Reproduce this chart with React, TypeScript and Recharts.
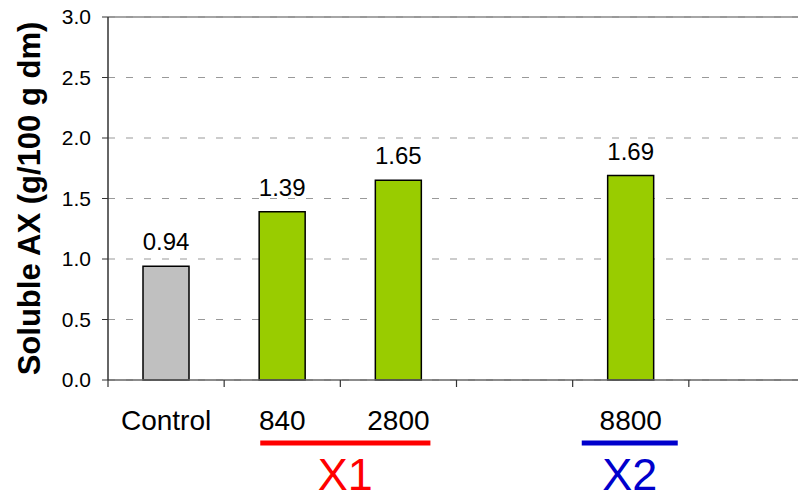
import { BarChart, Bar, XAxis, YAxis, CartesianGrid, ReferenceLine, LabelList, Cell } from "recharts";

const categories = ["Control", "840", "2800", "", "8800", ""];
const solubleAX = [0.94, 1.39, 1.65, null, 1.69, null];
const barColors = ["#C0C0C0", "#99CC00", "#99CC00", "#99CC00", "#99CC00", "#99CC00"];
const yTicks = [0, 0.5, 1, 1.5, 2, 2.5, 3];
const groupLabels = ["X1", "X2"];
const groupStart = ["840", "8800"];
const groupSize = [2, 1];
const groupColors = ["#FF0000", "#0000CC"];

const FONT = "'Liberation Sans', Arial, sans-serif";
const BAND = 697 / 6;
// line overhang past the bar centres of the first/last category in each group
const groupPad = [
  [22, 32],
  [49, 47],
];

const data = categories.map((c, i) => ({ name: c, value: solubleAX[i] }));

function CategoryTick(props: any) {
  const { x, y, payload, index } = props;
  const g = groupStart.indexOf(payload.value);
  let group = null;
  if (g >= 0) {
    const x1 = x - groupPad[g][0];
    const x2 = x + (groupSize[g] - 1) * BAND + groupPad[g][1];
    group = (
      <g>
        <line x1={x1} x2={x2} y1={y + 63} y2={y + 63} stroke={groupColors[g]} strokeWidth={5} />
        <text x={(x1 + x2) / 2} y={y + 110} textAnchor="middle" fontSize={45} fontFamily={FONT} fill={groupColors[g]}>
          {groupLabels[g]}
        </text>
      </g>
    );
  }
  // tick marks sit on the category boundaries, not the centres
  const left = x - BAND / 2;
  return (
    <g>
      <line x1={left} x2={left} y1={y} y2={y + 7} stroke="#333" strokeWidth={1.2} />
      {index === categories.length - 1 && (
        <line x1={left + BAND} x2={left + BAND} y1={y} y2={y + 7} stroke="#333" strokeWidth={1.2} />
      )}
      <text x={x} y={y + 50} textAnchor="middle" fontSize={28} fontFamily={FONT} fill="#000">
        {payload.value}
      </text>
      {group}
    </g>
  );
}

function YTitle(props: any) {
  const vb = props.viewBox;
  const cx = vb.x + 29;
  const cy = vb.y + vb.height / 2;
  return (
    <text
      x={cx}
      y={cy}
      transform={`rotate(-90, ${cx}, ${cy})`}
      textAnchor="middle"
      dominantBaseline="central"
      fontSize={31}
      fontWeight="bold"
      fontFamily={FONT}
      fill="#000"
    >
      Soluble AX (g/100 g dm)
    </text>
  );
}

export default function App() {
  return (
    <div style={{ position: "absolute", left: 0, top: 0, width: 798, height: 496, overflow: "hidden", background: "#fff" }}>
      <BarChart width={805} height={496} data={data} margin={{ top: 17, right: 0, left: 0, bottom: 0 }}>
        <CartesianGrid vertical={false} stroke="#999" strokeDasharray="7 11" />
        <XAxis
          dataKey="name"
          height={116}
          axisLine={{ stroke: "#666", strokeWidth: 1.5 }}
          tickLine={false}
          tickSize={0}
          tickMargin={0}
          interval={0}
          tick={<CategoryTick />}
        />
        <YAxis
          width={108}
          domain={[0, 3]}
          ticks={yTicks}
          tickFormatter={(v: number) => v.toFixed(1)}
          tickSize={6}
          tickMargin={11}
          tick={{ fontSize: 21, fill: "#000", fontFamily: FONT }}
          axisLine={{ stroke: "#333", strokeWidth: 1.5 }}
          tickLine={{ stroke: "#333" }}
          label={<YTitle />}
        />
        <ReferenceLine y={3} stroke="#888" strokeWidth={1.5} />
        <Bar dataKey="value" stroke="#000" strokeWidth={1.5} barSize={46} isAnimationActive={false}>
          {data.map((d, i) => (
            <Cell key={i} fill={barColors[i]} />
          ))}
          <LabelList
            dataKey="value"
            position="top"
            offset={16}
            formatter={(v: any) => (v == null ? "" : Number(v).toFixed(2))}
            style={{ fontSize: 24, fill: "#000", fontFamily: FONT }}
          />
        </Bar>
      </BarChart>
    </div>
  );
}
